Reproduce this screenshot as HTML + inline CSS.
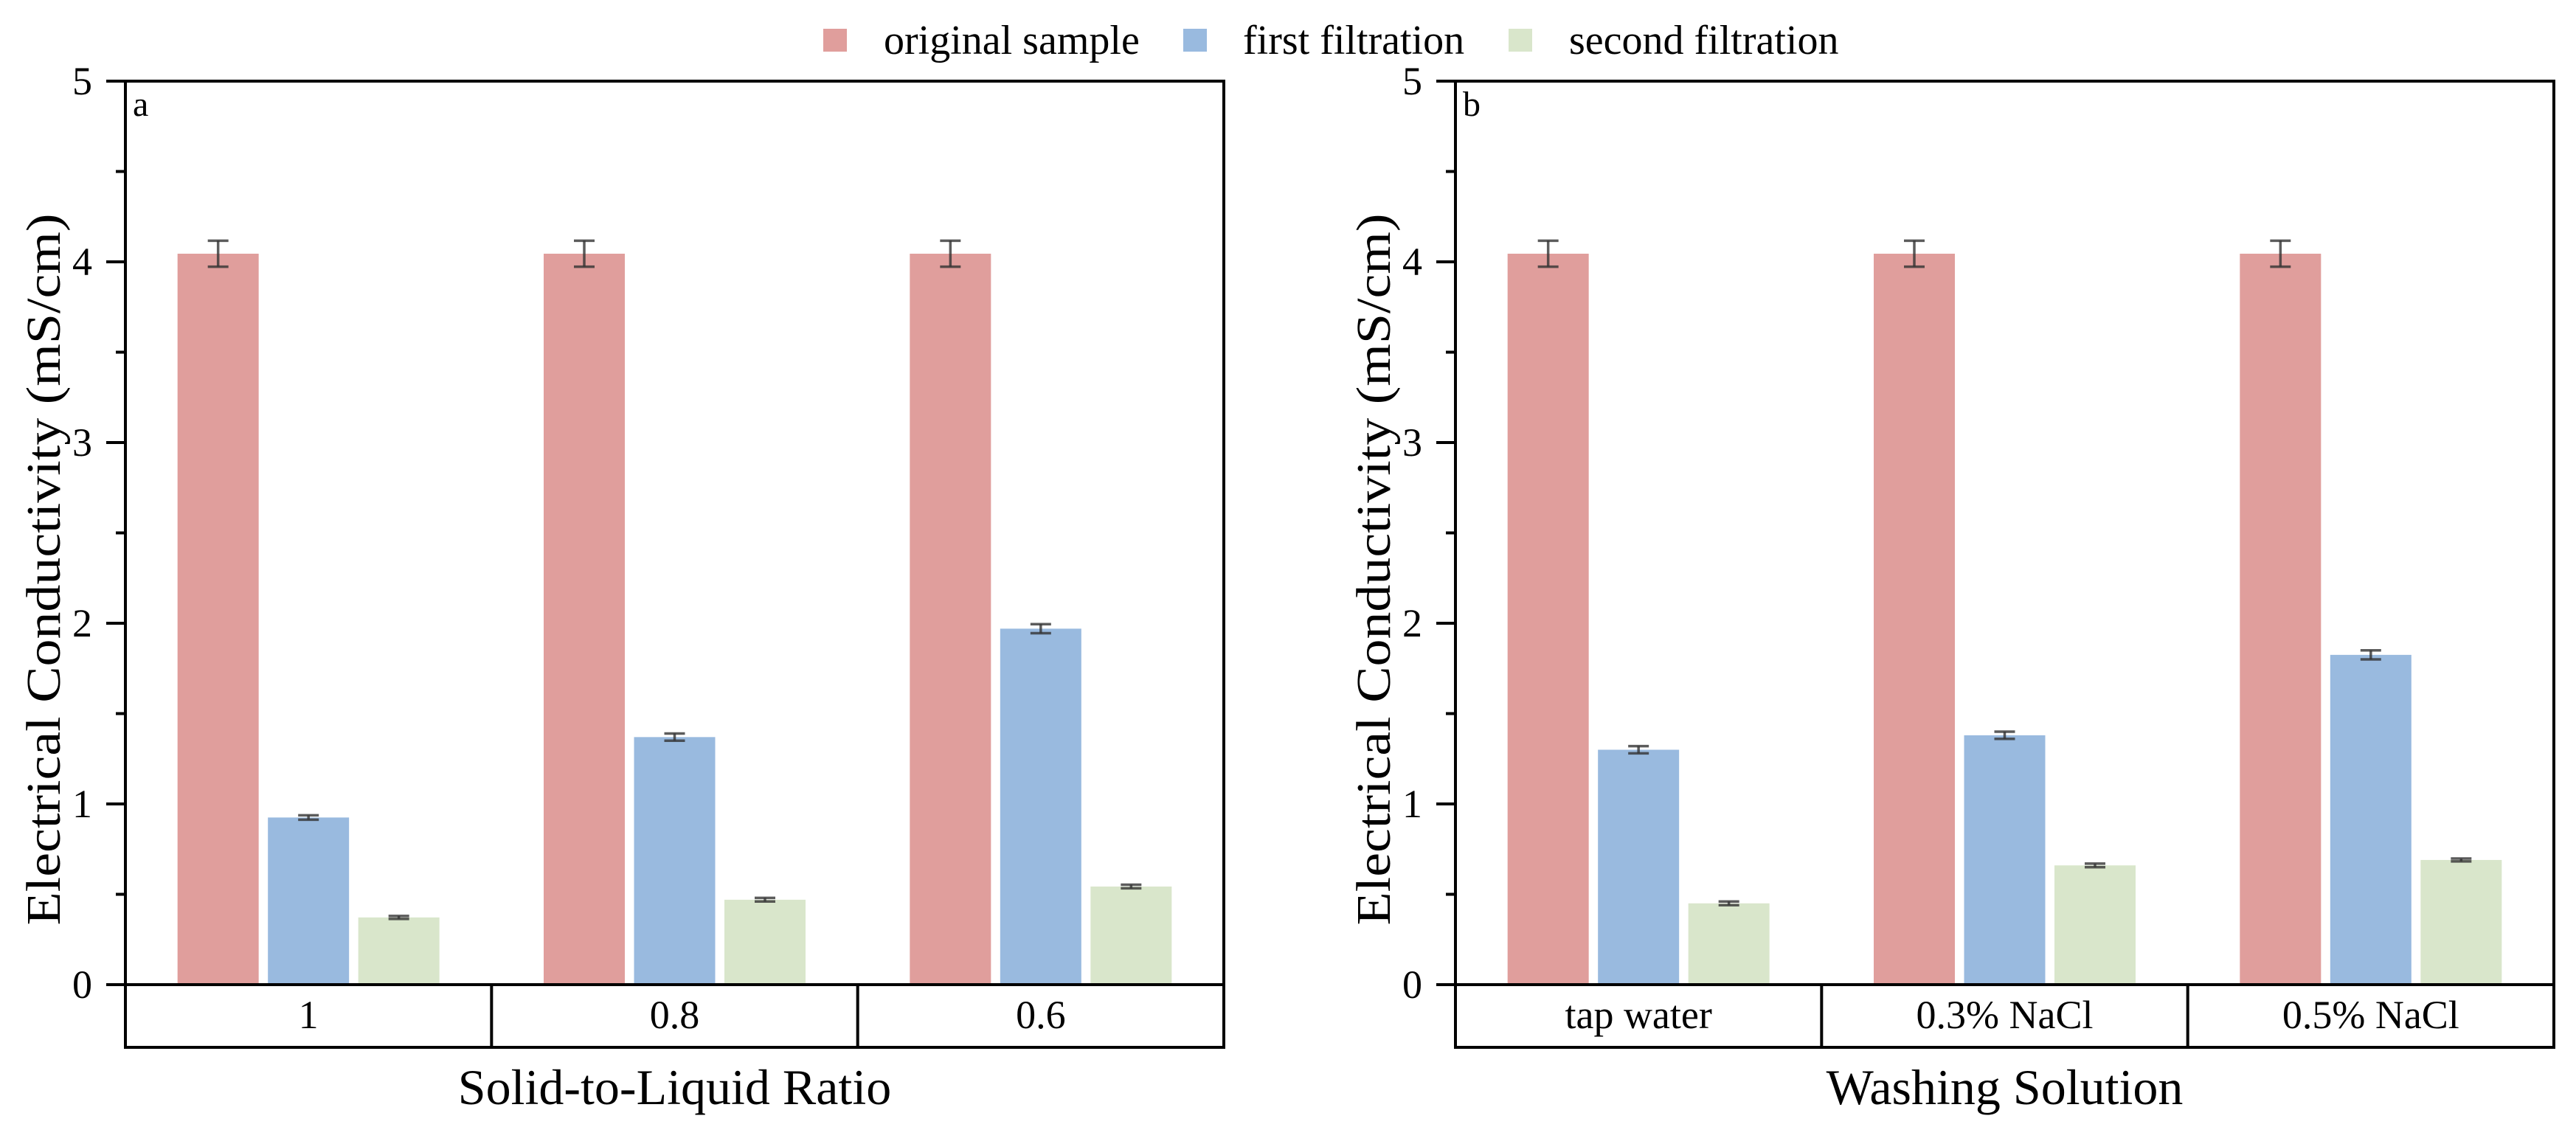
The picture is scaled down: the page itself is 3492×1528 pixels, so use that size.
<!DOCTYPE html>
<html><head><meta charset="utf-8">
<style>
html,body{margin:0;padding:0;background:#fff;}
svg{display:block;font-family:"Liberation Serif",serif;}
</style></head>
<body>
<svg id="chart" width="3492" height="1528" viewBox="0 0 3492 1528" xmlns="http://www.w3.org/2000/svg">
  <g>
    <g>
      <rect x="1116" y="39" width="32" height="31" fill="#e09e9c"/>
      <text x="1198" y="73" font-size="56">original sample</text>
    </g>
    <g>
      <rect x="1604" y="39" width="32" height="31" fill="#99badf"/>
      <text x="1685" y="73" font-size="56">first filtration</text>
    </g>
    <g>
      <rect x="2045" y="39" width="32" height="31" fill="#d9e6cb"/>
      <text x="2127" y="73" font-size="56">second filtration</text>
    </g>
  </g>
</svg>
<script>
const seriesNames = ['original sample','first filtration','second filtration'];
const colors = ['#e09e9c','#99badf','#d9e6cb'];
const catsA = ['1','0.8','0.6'];
const origA = [4.045, 4.045, 4.045];
const firstA = [0.925, 1.37, 1.97];
const secondA = [0.372, 0.47, 0.543];
const origErrA = [0.072, 0.072, 0.072];
const firstErrA = [0.012, 0.02, 0.025];
const secondErrA = [0.008, 0.01, 0.01];
const catsB = ['tap water','0.3% NaCl','0.5% NaCl'];
const origB = [4.045, 4.045, 4.045];
const firstB = [1.30, 1.38, 1.825];
const secondB = [0.45, 0.66, 0.69];
const origErrB = [0.072, 0.072, 0.072];
const firstErrB = [0.02, 0.02, 0.025];
const secondErrB = [0.01, 0.01, 0.008];
const yTicks = [0,1,2,3,4,5];
const yMinorTicks = [0.5,1.5,2.5,3.5,4.5];
const labelsPanel = ['a','b'];
const xTitles = ['Solid-to-Liquid Ratio','Washing Solution'];

const NS = 'http://www.w3.org/2000/svg';
const svg = document.getElementById('chart');
function mk(tag, attrs, parent){
  const e = document.createElementNS(NS, tag);
  for (const k in attrs) e.setAttribute(k, attrs[k]);
  (parent||svg).appendChild(e);
  return e;
}
const Y0 = 1335, PXU = 245, W = 1489, BOXB = 1420;
function yScale(v){ return Y0 - v*PXU; }

function panel(left, idx, cats, vals, errs){
  const g = mk('g', {});
  
  
  const right = left + W;
  const gw = W/3;
  for (let c=0;c<3;c++){
    const center = left + gw*(c+0.5);
    for (let s=0;s<3;s++){
      const bx = center + (s-1)*122.5 - 55;
      const v = vals[s][c];
      const r = mk('rect', {x:bx, y:yScale(v), width:110, height:Y0-yScale(v), fill:colors[s]}, g);
      
      
      const e = errs[s][c];
      const cx = bx+55;
      const eg = mk('g', {stroke:'#333', 'stroke-width':3.5, 'stroke-opacity':0.8}, g);
      
      
      mk('line', {x1:cx, x2:cx, y1:yScale(v+e), y2:yScale(v-e)}, eg);
      mk('line', {x1:cx-14, x2:cx+14, y1:yScale(v+e), y2:yScale(v+e)}, eg);
      mk('line', {x1:cx-14, x2:cx+14, y1:yScale(v-e), y2:yScale(v-e)}, eg);
    }
  }
  const fr = mk('rect', {x:left, y:yScale(5), width:W, height:BOXB-yScale(5), fill:'none', stroke:'#000', 'stroke-width':4}, g);
  
  
  const zl = mk('line', {x1:left-26, x2:right, y1:Y0, y2:Y0, stroke:'#000', 'stroke-width':4}, g);
  
  
  for (let c=0;c<3;c++){
    if (c>0){
      const d = mk('line', {x1:left+gw*c, x2:left+gw*c, y1:Y0, y2:BOXB, stroke:'#000', 'stroke-width':4}, g);
      
      
    }
    const t = mk('text', {x:left+gw*(c+0.5), y:1394, 'font-size':54, 'text-anchor':'middle'}, g);
    t.textContent = cats[c];
    
    
  }
  yTicks.forEach(v=>{
    const y = yScale(v);
    const tl = mk('line', {x1:left-26, x2:left, y1:y, y2:y, stroke:'#000', 'stroke-width':4}, g);
    
    
    const t = mk('text', {x:left-45, y:y+18, 'font-size':54, 'text-anchor':'end'}, g);
    t.textContent = String(v);
    
    
  });
  yMinorTicks.forEach(v=>{
    const y = yScale(v);
    const tl = mk('line', {x1:left-13, x2:left, y1:y, y2:y, stroke:'#000', 'stroke-width':4}, g);
    
    
  });
  const pl = mk('text', {x:left+10, y:157, 'font-size':48}, g);
  pl.textContent = labelsPanel[idx];
  
  
  const yt = mk('text', {x:0, y:0, 'font-size':66, 'text-anchor':'middle', textLength:965, lengthAdjust:'spacingAndGlyphs', transform:'translate(' + (left-89) + ',772) rotate(-90)'}, g);
  yt.textContent = 'Electrical Conductivity (mS/cm)';
  
  
  const xt = mk('text', {x:left+W/2, y:1497, 'font-size':68, 'text-anchor':'middle'}, g);
  xt.textContent = xTitles[idx];
  
  
}
panel(170, 0, catsA, [origA, firstA, secondA], [origErrA, firstErrA, secondErrA]);
panel(1973, 1, catsB, [origB, firstB, secondB], [origErrB, firstErrB, secondErrB]);
</script>
</body></html>
